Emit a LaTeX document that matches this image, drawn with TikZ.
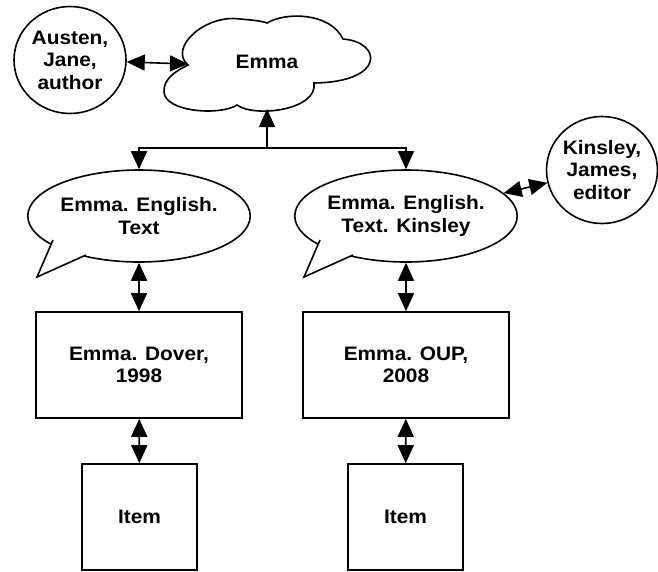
\documentclass[tikz,border=0pt]{standalone}
\usepackage{fontspec}
\setmainfont{Liberation Sans}[FakeStretch=1.07]
\usepackage{tikz}
\usetikzlibrary{arrows.meta, shapes.geometric, calc}

\begin{document}
\begin{tikzpicture}[x=1pt, y=-1pt, line width=1.6pt,
  lbl/.style={font=\fontsize{19.5}{22.5}\selectfont\bfseries, align=center, inner sep=0pt},
  person/.style={lbl, draw, ellipse, minimum width=112pt, minimum height=107pt},
  bubble/.style={lbl, draw, fill=white, ellipse, minimum width=207pt, minimum height=92pt},
  recbox/.style={lbl, draw, rectangle, minimum height=106pt},
  arr/.style={-{Triangle[length=18pt,width=16pt]}},
  link/.style={{Triangle[length=18pt,width=16pt]}-{Triangle[length=18pt,width=16pt]}}]
  \useasboundingbox (0,0) rectangle (658,571);

  % Work as a cloud
  \draw (188,65) .. controls (168,48) and (205,14) .. (240,19)
    .. controls (252,20) and (262,21) .. (267,23)
    .. controls (285,12) and (330,12) .. (343,39)
    .. controls (382,42) and (386,82) .. (314,83)
    .. controls (318,110) and (255,118) .. (237,105)
    .. controls (220,116) and (165,112) .. (164,92)
    .. controls (163,78) and (178,70) .. cycle;
  \node[lbl] (emma) at (267,62) {Emma};
  \coordinate (emmaW) at (188,64);
  \coordinate (emmaS) at (267,109);
  \coordinate (split) at (267,148);

  % Persons
  \node[person] (austen) at (70,60) {Austen,\\Jane,\\author};
  \node[person, minimum width=110pt] (kinsley) at (602,170) {Kinsley,\\James,\\editor};

  % Expressions
  \node[bubble] (exprL) at (139,216) {Emma. English.\\Text};
  \node[bubble] (exprR) at (406,216) {Emma. English.\\Text. Kinsley};
  \foreach \cx in {139,406} {
    \fill[white] (\cx-86,240) -- (\cx-102,277) -- (\cx-53,255) -- cycle;
    \draw (\cx-86,240) -- (\cx-102,277) -- (\cx-53,255);
  }

  % Manifestations and items
  \node[recbox, minimum width=206pt] (manifL) at (139,365) {Emma. Dover,\\1998};
  \node[recbox, minimum width=206pt] (manifR) at (406,365) {Emma. OUP,\\2008};
  \node[recbox, minimum width=115pt] (itemL) at (139.5,517) {Item};
  \node[recbox, minimum width=115pt] (itemR) at (405.5,517) {Item};

  % Links
  \draw[link] (austen) -- (emmaW);
  \draw[arr] (split) -- (emmaS);
  \draw[arr] (split) -| (exprL.north);
  \draw[arr] (split) -| (exprR.north);
  \draw[link] (exprR) -- (kinsley);
  \draw[link] (exprL) -- (manifL);
  \draw[link] (exprR) -- (manifR);
  \draw[link] (manifL) -- (itemL);
  \draw[link] (manifR) -- (itemR);
\end{tikzpicture}
\end{document}
